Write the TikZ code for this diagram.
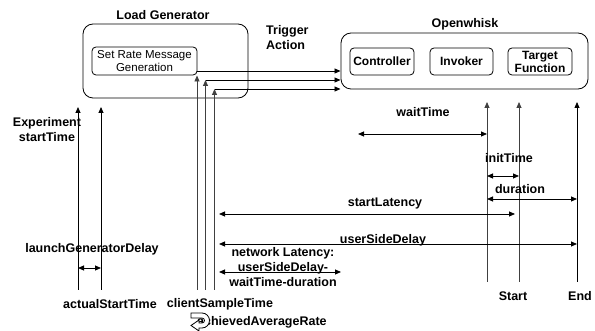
\documentclass[tikz,border=0pt]{standalone}
\usepackage{fontspec}
\setmainfont{Liberation Sans}
\usetikzlibrary{arrows.meta}
\begin{document}
\begin{tikzpicture}[x=1pt,y=-1pt,
  lbl/.style={font=\fontsize{12.5}{15}\selectfont\bfseries, inner sep=0pt, align=center},
  boxtxt/.style={font=\fontsize{12}{14}\selectfont\bfseries, align=center},
  bigbox/.style={draw, line width=0.8pt, rounded corners=10pt},
  smallbox/.style={draw, line width=0.8pt, rounded corners=4pt, inner sep=0pt},
  conn/.style={line width=0.8pt, -{Triangle[length=6pt,width=5pt]}},
  dconn/.style={line width=0.8pt, {Triangle[length=6pt,width=5pt]}-{Triangle[length=6pt,width=5pt]}},
  vline/.style={line width=0.8pt, black!75},
  vlineb/.style={line width=0.8pt, black},
]
\useasboundingbox[fill=white] (0,0) rectangle (595,331);

% boxes
\node[bigbox, minimum width=165pt, minimum height=74pt] (lg) at (165.5,61) {};
\node[lbl] (lgt) at (163,15) {Load Generator};
\node[smallbox, minimum width=105pt, minimum height=28pt, font=\fontsize{11.5}{13}\selectfont, align=center] (srm) at (144.5,61) {Set Rate Message\\Generation};

\node[bigbox, minimum width=247pt, minimum height=56pt] (ow) at (464.5,61) {};
\node[lbl] (owt) at (465,24) {Openwhisk};
\node[smallbox, boxtxt, minimum width=64pt, minimum height=27pt] (ctl) at (382,61.5) {Controller};
\node[smallbox, boxtxt, minimum width=63pt, minimum height=27pt] (inv) at (461.5,61.5) {Invoker};
\node[smallbox, boxtxt, minimum width=64pt, minimum height=27pt, font=\fontsize{12}{13}\selectfont\bfseries] (tf) at (540,61.5) {Target\\Function};

\node[lbl, align=left, anchor=west] (trig) at (266,38) {Trigger\\Action};

% coordinates for client lines
\coordinate (c1b) at (197,290); \coordinate (c1t) at (197,75.5);
\coordinate (c2b) at (205.5,290); \coordinate (c2t) at (205.5,80);
\coordinate (c3b) at (214.5,290); \coordinate (c3t) at (214.5,89);
\coordinate (h1s) at (197,71); \coordinate (h1e) at (340.5,71);
\coordinate (h2s) at (205.5,80); \coordinate (h2e) at (340.5,80);
\coordinate (h3s) at (214.5,89); \coordinate (h3e) at (340.5,89);

\draw[conn] (h1s) -- (h1e);
\draw[conn] (h2s) -- (h2e);
\draw[conn] (h3s) -- (h3e);
\draw[vline, -{Triangle[length=6pt,width=5pt]}] (c1b) -- (c1t);
\draw[vline, -{Triangle[length=6pt,width=5pt]}] (c2b) -- (c2t);
\draw[vline, -{Triangle[length=6pt,width=5pt]}] (c3b) -- (c3t);

% experiment lines
\coordinate (e1b) at (78,290); \coordinate (e1t) at (78,107);
\coordinate (e2b) at (101,290); \coordinate (e2t) at (101,107);
\draw[vlineb, -{Triangle[length=6pt,width=5pt]}] (e1b) -- (e1t);
\draw[vlineb, -{Triangle[length=6pt,width=5pt]}] (e2b) -- (e2t);

% right lines
\coordinate (r1b) at (487,282); \coordinate (r1t) at (487,102);
\coordinate (r2b) at (519,282); \coordinate (r2t) at (519,102);
\coordinate (r3b) at (577,282); \coordinate (r3t) at (577,102);
\draw[vline, -{Triangle[length=6pt,width=5pt]}] (r1b) -- (r1t);
\draw[vline, -{Triangle[length=6pt,width=5pt]}] (r2b) -- (r2t);
\draw[vline, black, -{Triangle[length=6pt,width=5pt]}] (r3b) -- (r3t);

% measurement arrows
\coordinate (wA) at (358,134); \coordinate (wB) at (487,134);
\draw[dconn] (wA) -- (wB);
\coordinate (iA) at (487,176); \coordinate (iB) at (519,176);
\draw[dconn] (iA) -- (iB);
\coordinate (dA) at (487,199); \coordinate (dB) at (577,199);
\draw[dconn] (dA) -- (dB);
\coordinate (sA) at (219,214); \coordinate (sB) at (515,214);
\draw[dconn] (sA) -- (sB);
\coordinate (uA) at (219,244); \coordinate (uB) at (577,244);
\draw[dconn] (uA) -- (uB);
\coordinate (nA) at (219,272); \coordinate (nB) at (341,272);
\draw[dconn] (nA) -- (nB);
\coordinate (lA) at (78,268); \coordinate (lB) at (101,268);
\draw[dconn] (lA) -- (lB);

% labels
\node[lbl] (exp) at (47,130) {Experiment\\startTime};
\node[lbl] (lgd) at (92,249) {launchGeneratorDelay};
\node[lbl] (ast) at (110,304) {actualStartTime};
\node[lbl] (cst) at (220,304) {clientSampleTime};
\node[lbl] (st) at (513,296) {Start};
\node[lbl] (en) at (580,296) {End};
\node[lbl] (wt) at (423,112) {waitTime};
\node[lbl] (it) at (509,158) {initTime};
\node[lbl] (du) at (520,189) {duration};
\node[lbl] (sl) at (385,203) {startLatency};
\node[lbl] (usd) at (383,240.5) {userSideDelay};
\node[lbl] (nl) at (283,267) {network Latency:\\userSideDelay-\\waitTime-duration};

% achievedAverageRate
\node[lbl, anchor=west] (aar) at (197,322) {achievedAverageRate};
\draw[line width=0.8pt, fill=white] (191,313) -- (202,313) arc[start angle=-90, end angle=90, radius=7.5]
  -- (199,328) -- (199,331) -- (191,325.5) -- (199,320) -- (199,323) -- (202,323)
  arc[start angle=90, end angle=-90, radius=2.5] -- (191,318) -- cycle;
\end{tikzpicture}
\end{document}
